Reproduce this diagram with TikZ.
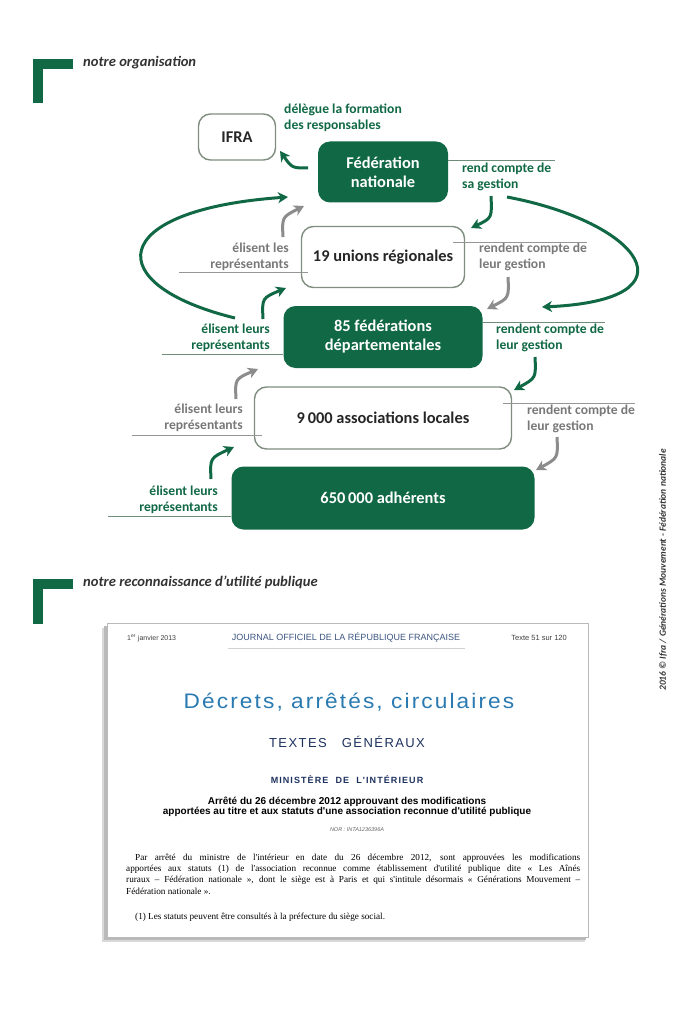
\documentclass[tikz,border=0pt]{standalone}
\usepackage{fontspec}
\setmainfont{Carlito}
\newfontfamily\jofont{Liberation Sans}
\newfontfamily\joserif{Liberation Serif}
\usetikzlibrary{arrows.meta, positioning, calc}

\definecolor{orgGreen}{RGB}{16,104,68}
\definecolor{orgGray}{RGB}{140,140,140}
\definecolor{txtGray}{RGB}{120,120,120}
\definecolor{boxLine}{RGB}{128,142,128}
\definecolor{lineGreen}{RGB}{110,140,120}
\definecolor{lineGray}{RGB}{150,150,150}
\definecolor{joBlue}{RGB}{42,122,178}
\definecolor{joHead}{RGB}{60,85,130}
\definecolor{joNavy}{RGB}{30,50,95}

\newcommand\boxfont{\fontsize{16.4}{19}\selectfont\bfseries}
\newcommand\lblfont{\fontsize{13.6}{15.5}\selectfont\bfseries}
\newcommand\headfont{\fontsize{14.6}{16}\selectfont\bfseries\itshape}

\tikzset{
  greenbox/.style={fill=orgGreen, rounded corners=12pt, text=white, font=\boxfont, align=center},
  whitebox/.style={draw=boxLine, line width=1.4pt, fill=white, rounded corners=12pt, text=black!85, font=\boxfont, align=center},
  glbl/.style={text=orgGreen, font=\lblfont, inner sep=0pt},
  slbl/.style={text=txtGray, font=\lblfont, inner sep=0pt},
  garrow/.style={draw=orgGreen, line width=3pt, -{Stealth[length=10pt, width=11pt, inset=3pt]}},
  sarrow/.style={draw=orgGray, line width=3pt, -{Stealth[length=10pt, width=11pt, inset=3pt]}},
  gline/.style={draw=lineGreen, line width=0.8pt},
  sline/.style={draw=lineGray, line width=0.8pt},
  corner/.style={fill=orgGreen},
  jotext/.style={inner sep=0pt, font=\joserif\fontsize{9.2}{11}\selectfont, anchor=west}
}

\begin{document}
\begin{tikzpicture}[x=1pt, y=-1pt]
  \useasboundingbox (0,0) rectangle (695,1024);

  % section marks
  \fill[corner] (33,59) rectangle (73,69);
  \fill[corner] (33,59) rectangle (43,103);
  \node[anchor=west, inner sep=0pt, font=\headfont, text=black!80] (orgTitle) at (83,63) {notre organisation};
  \fill[corner] (33,579) rectangle (73,589);
  \fill[corner] (33,579) rectangle (43,624);
  \node[anchor=west, inner sep=0pt, font=\headfont, text=black!80] (rupTitle) at (83,582) {notre reconnaissance d'utilité publique};

  % boxes
  \node[whitebox, minimum width=77, minimum height=46] (ifra) at (237,137) {IFRA};
  \node[greenbox, minimum width=130, minimum height=61] (fed) at (383,172) {Fédération\\nationale};
  \node[whitebox, minimum width=163, minimum height=61] (unions) at (383,257) {19 unions régionales};
  \node[greenbox, minimum width=199, minimum height=62] (dep) at (383,337) {85 fédérations\\départementales};
  \node[whitebox, minimum width=257, minimum height=62] (loc) at (383,418) {9\,000 associations locales};
  \node[greenbox, minimum width=303, minimum height=63] (adh) at (383,498) {650\,000 adhérents};

  % labels
  \node[glbl, anchor=west, align=left] (lblDeleg) at (284,118) {délègue la formation\\des responsables};
  \node[glbl, anchor=west, align=left] (lblFedR) at (462,177) {rend compte de\\sa gestion};
  \node[slbl, anchor=west, align=left] (lblUnR) at (479,257) {rendent compte de\\leur gestion};
  \node[slbl, anchor=east, align=right] (lblUnL) at (289,257) {élisent les\\représentants};
  \node[glbl, anchor=east, align=right] (lblDepL) at (270,338) {élisent leurs\\représentants};
  \node[glbl, anchor=west, align=left] (lblDepR) at (496,338) {rendent compte de\\leur gestion};
  \node[slbl, anchor=east, align=right] (lblLocL) at (243,418) {élisent leurs\\représentants};
  \node[slbl, anchor=west, align=left] (lblLocR) at (527,419) {rendent compte de\\leur gestion};
  \node[glbl, anchor=east, align=right] (lblAdhL) at (218,500) {élisent leurs\\représentants};

  % rules under labels
  \draw[gline] (fed.east |- 0,160) -- (555,160);
  \draw[sline] (453,242) -- (587,242);
  \draw[sline] (179,272) -- (308,272);
  \draw[gline] (162,354) -- (dep.west |- 0,354);
  \draw[gline] (dep.east |- 0,322) -- (605,322);
  \draw[sline] (132,435) -- (262,435);
  \draw[sline] (503,403) -- (635,403);
  \draw[gline] (108,516) -- (adh.west |- 0,516);

  % arrow ends
  \coordinate (ifraT) at (308,168);  \coordinate (ifraH) at (280,151);
  \coordinate (fedT) at (491,196);   \coordinate (fedH) at (471,228);
  \coordinate (unUpT) at (283,237);  \coordinate (unUpH) at (304,206);
  \coordinate (bigLT) at (235,318);  \coordinate (bigLH) at (288,197);
  \coordinate (bigRT) at (507,197);  \coordinate (bigRH) at (542,307);
  \coordinate (unDnT) at (508,277);  \coordinate (unDnH) at (487,309);
  \coordinate (depUpT) at (263,319); \coordinate (depUpH) at (286,288);
  \coordinate (depDnT) at (535,357); \coordinate (depDnH) at (514,390);
  \coordinate (locUpT) at (236,399); \coordinate (locUpH) at (258,369);
  \coordinate (locDnT) at (557,437); \coordinate (locDnH) at (536,470);
  \coordinate (adhUpT) at (211,479); \coordinate (adhUpH) at (234,447);

  % arrows
  \draw[garrow] (ifraT) .. controls (292,168) .. (ifraH);
  \draw[garrow] (fedT) .. controls (492,218) .. (fedH);
  \draw[sarrow] (unUpT) .. controls (282,217) .. (unUpH);
  \draw[garrow] (bigLT) .. controls (100,285) and (105,210) .. (bigLH);
  \draw[garrow] (bigRT) .. controls (640,222) and (700,300) .. (bigRH);
  \draw[sarrow] (unDnT) .. controls (509,298) .. (unDnH);
  \draw[garrow] (depUpT) .. controls (262,298) .. (depUpH);
  \draw[garrow] (depDnT) .. controls (536,378) .. (depDnH);
  \draw[sarrow] (locUpT) .. controls (235,379) .. (locUpH);
  \draw[sarrow] (locDnT) .. controls (558,458) .. (locDnH);
  \draw[garrow] (adhUpT) .. controls (210,458) .. (adhUpH);

  % journal officiel page
  \fill[gray!30] (102,628) rectangle (585,942);
  \fill[gray!55] (104,626) rectangle (586,940);
  \draw[gray!55, fill=white, line width=0.6pt] (107,623) rectangle (588,937);
  \node[anchor=west, inner sep=0pt, font=\jofont\fontsize{7}{8}\selectfont, text=black!75] (joDate) at (127,638) {1\textsuperscript{er} janvier 2013};
  \node[inner sep=0pt, font=\jofont\fontsize{9}{10}\selectfont, text=joHead] (joTitle) at (346,638) {JOURNAL OFFICIEL DE LA RÉPUBLIQUE FRANÇAISE};
  \node[anchor=east, inner sep=0pt, font=\jofont\fontsize{7.5}{8}\selectfont, text=black!75] (joNum) at (567,638) {Texte 51 sur 120};
  \draw[gray!35, line width=0.6pt] (228,648) -- (465,648);
  \node[inner sep=0pt, font=\jofont\fontsize{21}{23}\selectfont\addfontfeatures{FakeStretch=1.08, LetterSpace=10}, text=joBlue] (joDecr) at (349,702) {Décrets,\ arrêtés,\ circulaires};
  \node[inner sep=0pt, font=\jofont\fontsize{13}{15}\selectfont\addfontfeatures{LetterSpace=11}, text=joNavy] (joTextes) at (347,742) {TEXTES\ \ \ GÉNÉRAUX};
  \node[inner sep=0pt, font=\jofont\bfseries\fontsize{9}{10}\selectfont\addfontfeatures{LetterSpace=12}, text=joNavy] (joMin) at (347,780) {MINISTÈRE\ \ DE\ \ L'INTÉRIEUR};
  \node[inner sep=0pt, font=\jofont\bfseries\fontsize{10}{10.5}\selectfont, align=center] (joArr) at (347,807) {Arrêté du 26 décembre 2012 approuvant des modifications\\apportées au titre et aux statuts d'une association reconnue d'utilité publique};
  \node[inner sep=0pt, font=\jofont\itshape\fontsize{5.5}{6}\selectfont, text=black!60] (joNor) at (357,830) {NOR : INTA1236396A};
  \node[jotext] (joP1) at (135,858) {\makebox[445pt][s]{Par arrêté du ministre de l'intérieur en date du 26 décembre 2012, sont approuvées les modifications}};
  \node[jotext] (joP2) at (126,869) {\makebox[454pt][s]{apportées aux statuts (1) de l'association reconnue comme établissement d'utilité publique dite « Les Aînés}};
  \node[jotext] (joP3) at (126,880) {\makebox[454pt][s]{ruraux – Fédération nationale », dont le siège est à Paris et qui s'intitule désormais « Générations Mouvement –}};
  \node[jotext] (joP4) at (126,891) {Fédération nationale ».};
  \node[jotext] (joNote) at (135,917) {(1) Les statuts peuvent être consultés à la préfecture du siège social.};

  % credit
  \node[rotate=90, inner sep=0pt, font=\fontsize{9.5}{10}\selectfont\itshape\bfseries, text=black!80] (credit) at (663,570) {2016 © Ifra / Générations Mouvement - Fédération nationale};
\end{tikzpicture}
\end{document}
